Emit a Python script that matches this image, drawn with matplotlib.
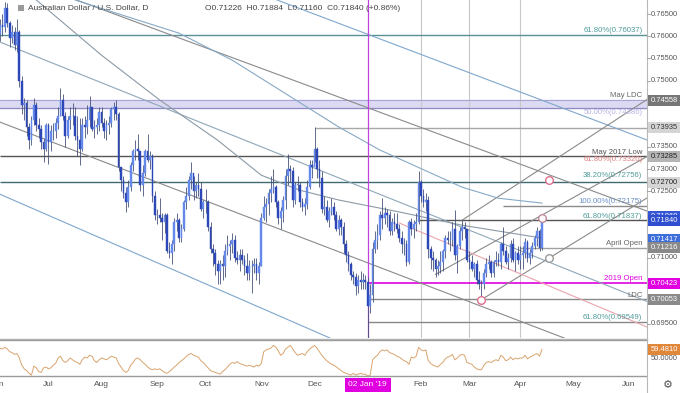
import matplotlib
matplotlib.use('Agg')
import matplotlib.pyplot as plt
import matplotlib.transforms as mtransforms
from matplotlib.patches import Rectangle
import numpy as np
import pandas as pd

plt.rcParams['font.family'] = ['Liberation Sans', 'DejaVu Sans']

# ---------------- data ----------------
start_date = '2018-06-01'
end_date = '2019-04-12'
axis_end = '2019-06-28'
first_open = 0.7565

close = [
 # Jun 2018
 .7605,.7625,.7620,.7665,.7630,.7595,.7610,.7580,.7610,.7500,.7445,.7450,.7395,.7365,.7410,.7445,.7400,.7390,.7360,.7345,.7400,
 # Jul
 .7360,.7385,.7385,.7405,.7420,.7455,.7420,.7375,.7410,.7420,.7420,.7375,.7365,.7345,.7400,.7395,.7410,.7440,.7390,.7395,.7400,.7430,
 # Aug
 .7405,.7385,.7400,.7405,.7435,.7440,.7425,.7305,.7275,.7245,.7225,.7260,.7310,.7340,.7345,.7340,.7265,.7290,.7340,.7320,.7330,.7240,.7195,
 # Sep
 .7195,.7190,.7180,.7195,.7115,.7110,.7130,.7180,.7185,.7145,.7165,.7225,.7240,.7275,.7290,.7250,.7265,.7255,.7210,.7225,
 # Oct
 .7225,.7170,.7120,.7110,.7085,.7070,.7085,.7080,.7115,.7125,.7130,.7140,.7100,.7095,.7105,.7095,.7080,.7065,.7080,.7080,.7085,.7065,.7080,
 # Nov
 .7190,.7215,.7220,.7245,.7255,.7260,.7225,.7190,.7205,.7230,.7285,.7300,.7295,.7230,.7265,.7265,.7225,.7215,.7220,.7260,.7310,.7305,
 # Dec
 .7345,.7300,.7280,.7210,.7215,.7185,.7205,.7215,.7195,.7165,.7185,.7170,.7130,.7105,.7085,.7060,.7055,.7035,.7050,.7045,.7050,
 # Jan 2019
 .7045,.6990,.7015,.7120,.7140,.7150,.7195,.7190,.7200,.7195,.7160,.7180,.7175,.7165,.7145,.7130,.7130,.7090,.7180,.7165,.7175,.7180,.7270,
 # Feb
 .7240,.7225,.7230,.7120,.7100,.7095,.7075,.7080,.7090,.7115,.7145,.7140,.7140,.7165,.7105,.7125,.7160,.7170,.7165,.7095,
 # Mar
 .7090,.7075,.7085,.7050,.7040,.7040,.7065,.7085,.7090,.7065,.7090,.7095,.7090,.7130,.7115,.7090,.7100,.7130,.7095,.7110,.7095,
 # Apr
 .7105,.7110,.7135,.7100,.7110,.7125,.7145,.7160,.71226,.71840,
]
high = [
 .7620,.7640,.7650,.7677,.7675,.7635,.7625,.7620,.7640,.7615,.7510,.7460,.7455,.7405,.7420,.7460,.7452,.7415,.7400,.7370,.7405,
 .7405,.7400,.7405,.7415,.7440,.7483,.7470,.7430,.7420,.7440,.7450,.7440,.7420,.7415,.7415,.7420,.7445,.7465,.7440,.7410,.7415,.7440,
 .7440,.7415,.7410,.7420,.7440,.7452,.7455,.7430,.7305,.7285,.7260,.7275,.7315,.7345,.7365,.7380,.7340,.7310,.7345,.7380,.7340,.7335,.7250,
 .7210,.7235,.7200,.7200,.7200,.7135,.7140,.7190,.7200,.7190,.7175,.7230,.7260,.7285,.7315,.7285,.7270,.7290,.7270,.7230,
 .7255,.7230,.7180,.7130,.7120,.7095,.7095,.7105,.7130,.7150,.7140,.7155,.7150,.7115,.7120,.7120,.7105,.7110,.7095,.7095,.7100,.7100,.7090,
 .7200,.7240,.7235,.7255,.7285,.7300,.7265,.7230,.7215,.7240,.7300,.7335,.7310,.7305,.7270,.7285,.7270,.7235,.7235,.7275,.7320,.7320,
 .7394,.7350,.7320,.7295,.7240,.7230,.7215,.7235,.7225,.7205,.7195,.7190,.7180,.7140,.7115,.7090,.7070,.7065,.7060,.7070,.7065,
 .7060,.7055,.7040,.7135,.7160,.7175,.7205,.7235,.7215,.7210,.7205,.7190,.7200,.7200,.7175,.7160,.7145,.7140,.7185,.7190,.7185,.7200,.7296,
 .7275,.7255,.7245,.7240,.7125,.7115,.7100,.7095,.7115,.7120,.7150,.7160,.7160,.7180,.7207,.7130,.7170,.7185,.7180,.7165,
 .7115,.7105,.7090,.7095,.7070,.7050,.7075,.7100,.7105,.7095,.7095,.7115,.7110,.7135,.7168,.7125,.7110,.7140,.7145,.7115,.7125,
 .7125,.7125,.7145,.7140,.7120,.7135,.7150,.7170,.7165,.71884,
]
low = [
 .7555,.7590,.7600,.7610,.7620,.7575,.7585,.7570,.7565,.7485,.7425,.7410,.7375,.7345,.7355,.7400,.7385,.7370,.7345,.7315,.7340,
 .7311,.7340,.7365,.7370,.7390,.7420,.7410,.7350,.7370,.7390,.7400,.7365,.7330,.7310,.7340,.7370,.7380,.7395,.7385,.7370,.7380,.7385,
 .7395,.7370,.7365,.7380,.7395,.7410,.7410,.7295,.7250,.7235,.7202,.7215,.7250,.7295,.7320,.7320,.7250,.7240,.7285,.7315,.7300,.7225,.7185,
 .7175,.7180,.7140,.7155,.7110,.7100,.7085,.7115,.7160,.7135,.7135,.7160,.7210,.7230,.7255,.7230,.7235,.7240,.7205,.7190,
 .7200,.7160,.7110,.7080,.7060,.7040,.7040,.7050,.7055,.7105,.7095,.7110,.7090,.7085,.7070,.7085,.7060,.7050,.7050,.7020,.7065,.7050,.7040,
 .7080,.7185,.7180,.7195,.7225,.7245,.7215,.7175,.7165,.7180,.7210,.7265,.7270,.7215,.7220,.7250,.7215,.7205,.7195,.7210,.7255,.7280,
 .7315,.7280,.7260,.7200,.7195,.7180,.7170,.7195,.7185,.7160,.7150,.7150,.7110,.7090,.7070,.7050,.7040,.7015,.7020,.7030,.7030,
 .7030,.6715,.6975,.7000,.7110,.7120,.7140,.7165,.7175,.7170,.7150,.7150,.7160,.7155,.7135,.7110,.7105,.7080,.7085,.7150,.7145,.7160,.7175,
 .7225,.7215,.7205,.7100,.7075,.7070,.7055,.7060,.7065,.7070,.7100,.7130,.7115,.7125,.7095,.7065,.7120,.7140,.7145,.7090,
 .7075,.7070,.7055,.7040,.7030,.7005,.7030,.7055,.7075,.7055,.7055,.7080,.7080,.7075,.7105,.7085,.7075,.7090,.7090,.7070,.7085,
 .7075,.7075,.7100,.7090,.7085,.7100,.7120,.7125,.7115,.7116,
]
rsi = [
 60,61,60,62,60, 57,56,54,55,50, 42,38,36,33,31, 41,39,35,34,39,
 40,38,39,42,44, 50,52,47,45,47, 50,48,46,45,43, 48,51,50,53,52,
 47,45,48,50,49, 48,50,52,51,50, 44,40,36,34,36, 42,45,49,50,48,
 45,43,40,38,37, 38,37,38,36,34, 33,35,37,40,42, 45,47,49,52,54,
 55,53,52,51,47, 45,42,39,36,35, 34,33,32,35,37, 40,43,45,44,46,
 44,43,42,41,42, 41,40,42,41,44, 57,59,60,61,64, 62,58,53,55,60,
 62,64,60,56,53, 54,55,53,57,60, 62,64,61,57,53, 50,47,45,43,42,
 40,38,36,34,33, 32,31,33,31,32, 33,32,32,30,31, 48,51,53,57,59,
 58,59,56,55,54, 52,51,49,47,46, 43,51,50,52,62, 59,58,59,47,44,
 42,41,40,43,45, 49,51,52,54,48, 50,53,54,53,45, 44,43,40,38,37,
 37,42,45,46,45, 47,48,47,53,51, 47,48,51,48,50, 49,50,50,53,49,
 51,52,54,55,52, 59.481,
]

# moving-average curves (date, value)
ma1_dates = ['2018-06-25', '2018-08-01', '2018-09-04', '2018-10-08', '2018-11-01', '2018-11-23',
             '2018-12-17', '2019-01-21', '2019-02-26', '2019-04-12']
ma1_values = [0.7682, 0.7557, 0.7456, 0.7365, 0.7286, 0.7252, 0.7230, 0.7203, 0.7173, 0.7144]
ma2_dates = ['2018-07-17', '2018-09-14', '2018-10-16', '2018-12-17', '2019-01-09', '2019-02-26',
             '2019-03-19', '2019-04-12']
ma2_values = [0.7682, 0.7607, 0.7546, 0.7395, 0.7343, 0.7259, 0.7234, 0.7223]

# horizontal levels
level_prices = [0.76037, 0.73935, 0.73285, 0.72700, 0.72175, 0.71837, 0.71216, 0.70423, 0.70053, 0.69549]
level_starts = ['2018-06-01', '2018-12-03', '2018-06-01', '2018-06-01', '2019-03-21', '2019-01-31',
                '2019-04-01', '2019-01-02', '2019-01-02', '2019-01-02']
level_colors = ['#5a8f96', '#a8a8a8', '#555555', '#3f6b70', '#8c8c8c', '#555555',
                '#a0a0a0', '#e000e0', '#888888', '#888888']
band_low, band_high = 0.74386, 0.74558

# line labels
label_texts = ['61.80%(0.76037)', 'May LDC', '50.00%(0.74386)', 'May 2017 Low', '61.80%(0.73320)',
               '38.20%(0.72756)', '100.00%(0.72175)', '61.80%(0.71837)', 'April Open', '2019 Open',
               'LDC', '61.80%(0.69549)']
label_prices = [0.76037, 0.74558, 0.74386, 0.73285, 0.73320, 0.72756, 0.72175, 0.71837, 0.71216, 0.70423,
                0.70053, 0.69549]
label_colors = ['#4f9c9a', '#666666', '#b9b3e6', '#555555', '#e08080', '#4f9c9a', '#6a8fc4', '#4f9c9a',
                '#666666', '#e000e0', '#666666', '#4f9c9a']

# trend lines
trend_d1 = ['2018-06-04', '2018-06-04', '2018-06-04', '2018-06-04', '2018-12-03', '2019-03-08', '2019-02-11',
            '2019-02-26', '2019-01-21']
trend_p1 = [0.7243, 0.7406, 0.7587, 0.7746, 0.7650, 0.7005, 0.7062, 0.71845, 0.71781]
trend_d2 = ['2018-12-11', '2018-12-03', '2018-12-03', '2018-12-03', '2019-06-03', '2019-04-17', '2019-04-12',
            '2019-06-12', '2019-06-12']
trend_p2 = [0.6919, 0.7134, 0.7302, 0.7483, 0.7381, 0.7099, 0.7196, 0.74557, 0.69438]
trend_colors = ['#7ea7cc', '#8a8a8a', '#8fa7b8', '#8a8a8a', '#7ea7cc', '#8a8a8a', '#8a8a8a', '#8a8a8a', '#eaa4ac']
trend_ray = [False, False, False, False, False, True, True, True, True]

# marker circles
circle_dates = ['2019-03-08', '2019-04-12', '2019-04-17', '2019-04-17']
circle_prices = [0.7005, 0.71900, 0.70986, 0.72756]
circle_colors = ['#e07090', '#c08a9a', '#999999', '#e07090']

# axis boxes
box_texts = ['0.74558', '0.73935', '0.73285', '0.72700', '0.71869', '0.71840', '0.71417', '0.71216', '0.70423', '0.70053']
box_prices = [0.74558, 0.73935, 0.73285, 0.72700, 0.71920, 0.71840, 0.71417, 0.71216, 0.70423, 0.70053]
box_bg = ['#777777', '#d5d5d5', '#b5b5b5', '#d5d5d5', '#3556d6', '#2f4fd0', '#3c6edc', '#8a8a8a', '#e000e0', '#8a8a8a']
box_fg = ['white', '#333333', '#222222', '#222222', 'white', 'white', 'white', 'white', 'white', 'white']
tick_prices = [0.69500, 0.71000, 0.72500, 0.73000, 0.73500, 0.75000, 0.75500, 0.76000, 0.76500]
month_names = ['Jun', 'Jul', 'Aug', 'Sep', 'Oct', 'Nov', 'Dec', 'Jan', 'Feb', 'Mar', 'Apr', 'May', 'Jun']
marked_date = '2019-01-02'

# ---------------- figure ----------------
W, H = 680, 393
fig = plt.figure(figsize=(W / 100, H / 100), dpi=100)
px = lambda x: x / W
py = lambda y: 1 - y / H

PANEL_R = 647
ax = fig.add_axes([0, py(338), px(PANEL_R), 338 / H])
axr = fig.add_axes([0, py(378), px(PANEL_R), 40 / H])

full_dates = pd.bdate_range(start_date, axis_end)
dates = pd.bdate_range(start_date, end_date)
n = min(len(dates), len(close), len(high), len(low))
pos = lambda d: full_dates.get_loc(pd.Timestamp(d))

XMIN, XMAX = 1.0, 268.4
YMIN, YMAX = 0.7682 - 338 / 4425, 0.7682

opens = [first_open] + close[:n - 1]
for i in range(n):
    o, c, h, l = opens[i], close[i], high[i], low[i]
    up = c >= o
    col = '#6489ea' if up else '#2b47b8'
    ax.vlines(i, l, h, color='#46527a', lw=0.6, zorder=3)
    ax.add_patch(Rectangle((i - 0.36, min(o, c)), 0.72, max(abs(c - o), 0.00006),
                           facecolor=col, edgecolor=col, lw=0.3, zorder=4))

# band
ax.axhspan(band_low, band_high, color='#dcd9f3', zorder=1)
ax.axhline(band_low, color='#8f8ac4', lw=0.9, zorder=2)
ax.axhline(band_high, color='#a9a5d6', lw=0.8, zorder=2)

for p, d, c in zip(level_prices, level_starts, level_colors):
    lw = 1.2 if c == '#e000e0' else 1.0
    ax.plot([max(pos(d), XMIN), XMAX], [p, p], color=c, lw=lw, zorder=2, solid_capstyle='butt')

for d1, p1, d2, p2, c, r in zip(trend_d1, trend_p1, trend_d2, trend_p2, trend_colors, trend_ray):
    i1, i2 = pos(d1), pos(d2)
    if r:
        s = (p2 - p1) / (i2 - i1)
        ax.plot([i1, XMAX], [p1, p1 + s * (XMAX - i1)], color=c, lw=0.8, zorder=2)
    else:
        ax.axline((i1, p1), (i2, p2), color=c, lw=0.8, zorder=2)

# moving averages
ax.plot([pos(d) for d in ma1_dates], ma1_values, color='#8c9aa6', lw=0.8, zorder=2)
ax.plot([pos(d) for d in ma2_dates], ma2_values, color='#86a9c6', lw=0.8, zorder=2)

# vertical lines
ax.axvline(pos(marked_date), color='#c040e0', lw=0.9, zorder=2)
for m in ['2019-02-01', '2019-03-01', '2019-04-01']:
    ax.axvline(pos(m), color='#c8c8c8', lw=0.8, zorder=1)

for d, p, c in zip(circle_dates, circle_prices, circle_colors):
    ax.plot(pos(d), p, 'o', ms=5.5, mfc='white', mec=c, mew=1.0, zorder=6)

lbl_tr = mtransforms.blended_transform_factory(ax.transAxes, ax.transData)
for t, p, c in zip(label_texts, label_prices, label_colors):
    va = 'top' if t.startswith('50.00') or t.startswith('61.80%(0.733') else 'bottom'
    ax.text(0.993, p + (0.0002 if va == 'bottom' else -0.0002), t, transform=lbl_tr, ha='right', va=va,
            fontsize=5.6, color=c, zorder=7)

ax.set_xlim(XMIN, XMAX)
ax.set_ylim(YMIN, YMAX)
ax.set_xticks([]); ax.set_yticks([])
for s in ax.spines.values():
    s.set_visible(False)

# RSI
axr.plot(range(len(rsi)), rsi, color='#d9a46e', lw=0.7)
axr.axhline(70, color='#9a9a9a', lw=1.0)
axr.axhline(30, color='#9a9a9a', lw=1.0)
axr.set_xlim(XMIN, XMAX)
axr.set_ylim(30 - 2 / 0.9, 70 + 2 / 0.9)
axr.set_xticks([]); axr.set_yticks([])
for s in axr.spines.values():
    s.set_visible(False)

# separators
fig.add_artist(plt.Line2D([0, px(PANEL_R)], [py(338.5), py(338.5)], color='#b0b0b0', lw=1.0))
fig.add_artist(plt.Line2D([px(PANEL_R), px(PANEL_R)], [0, 1], color='#b8b8b8', lw=0.8))

# right price axis
def fy(p):
    return ax.transData.transform((XMIN, p))[1] / fig.dpi / (H / 100)

for p in tick_prices:
    y = fy(p)
    fig.add_artist(plt.Line2D([px(PANEL_R), px(PANEL_R + 3)], [y, y], color='#999999', lw=0.6))
    fig.text(px(651), y, '%.5f' % p, fontsize=5.4, color='#555555', va='center', ha='left')

for k, (t, p, bg, fg) in enumerate(zip(box_texts, box_prices, box_bg, box_fg)):
    y = fy(p)
    z = 5 + 2 * k
    fig.patches.append(Rectangle((px(PANEL_R + 1), y - 5.5 / H), px(33), 11 / H, transform=fig.transFigure,
                                 facecolor=bg, edgecolor='none', zorder=z))
    fig.text(px(651), y, t, fontsize=5.4, color=fg, va='center', ha='left', zorder=z + 1)

# RSI axis labels
def fyr(v):
    return axr.transData.transform((XMIN, v))[1] / fig.dpi / (H / 100)

y50 = fyr(50)
fig.text(px(651), y50, '50.0000', fontsize=5.4, color='#555555', va='center', ha='left')
yl = fyr(rsi[-1])
fig.patches.append(Rectangle((px(PANEL_R + 1), yl - 5.5 / H), px(33), 11 / H, transform=fig.transFigure,
                             facecolor='#e0873a', edgecolor='none', zorder=5))
fig.text(px(651), yl, '%.4f' % rsi[-1], fontsize=5.4, color='white', va='center', ha='left', zorder=6)

# time axis
tr = mtransforms.blended_transform_factory(ax.transData, fig.transFigure)
month_starts = pd.date_range('2018-06-01', '2019-06-01', freq='MS')
for ms, name in zip(month_starts, month_names):
    i = full_dates.searchsorted(ms)
    if name == 'Jan':
        continue
    fig.text(i, py(385), name, transform=tr, fontsize=6, color='#555555', ha='center', va='center')
jx = pos(marked_date)
fig.text(jx, py(385), "02 Jan '19", transform=tr, fontsize=6, color='white', ha='center', va='center',
         bbox=dict(boxstyle='square,pad=0.45', facecolor='#e000e0', edgecolor='none'))
fig.text(px(668), py(385), '\u2699', fontsize=8, color='#555555', ha='center', va='center',
         family='DejaVu Sans')

# header
fig.patches.append(Rectangle((px(18), py(11)), px(6), 6 / H, transform=fig.transFigure,
                             facecolor='#9a9a9a', edgecolor='none', zorder=5))
fig.text(px(28), py(8), 'Australian Dollar / U.S. Dollar, D', fontsize=6, color='#444444', va='center')
fig.text(px(205), py(8), 'O0.71226  H0.71884  L0.71160  C0.71840 (+0.86%)', fontsize=6, color='#444444',
         va='center')

fig.savefig('out.png', dpi=100)
